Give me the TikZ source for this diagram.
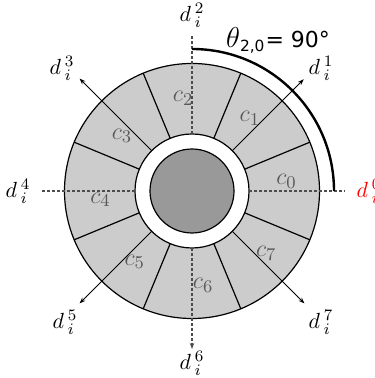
\documentclass[tikz,border=0pt]{standalone}
\usepackage{fontspec}
\setsansfont{DejaVu Sans}
\usetikzlibrary{arrows.meta}

\begin{document}
\begin{tikzpicture}[x=0.5pt,y=0.5pt,>={Stealth[length=3pt,width=2.2pt]}]
\tikzstyle{cl}=[text=black!65,font=\fontsize{13}{15}\selectfont]
\tikzstyle{dl}=[font=\fontsize{11}{13}\selectfont]
\tikzstyle{dir}=[draw=black!70,line width=0.7pt,dash pattern=on 1.5pt off 1pt]
\tikzstyle{diag}=[->,line width=0.5pt]
\useasboundingbox (-192,-187) rectangle (182,191);
% ring of cells
\filldraw[fill=black!20,line width=0.6pt] (0,0) circle (127.5);
\draw[line width=0.6pt] (22.5:57) -- (22.5:127.5) (67.5:57) -- (67.5:127.5)
  (112.5:57) -- (112.5:127.5) (157.5:57) -- (157.5:127.5)
  (202.5:57) -- (202.5:127.5) (247.5:57) -- (247.5:127.5)
  (292.5:57) -- (292.5:127.5) (337.5:57) -- (337.5:127.5);
\filldraw[fill=white,line width=0.6pt] (0,0) circle (57);
\filldraw[fill=black!40,line width=0.6pt] (0,0) circle (42);
% directions
\draw[dir] (0:57) -- (0:153);
\draw[dir] (90:57) -- (90:157);
\draw[dir] (180:57) -- (180:152);
\draw[dir,->] (270:57) -- (270:158);
\draw[diag] (45:57) -- (45:158);
\draw[diag] (135:57) -- (135:159);
\draw[diag] (225:57) -- (225:159);
\draw[diag] (315:57) -- (315:159);
% angle
\draw[line width=1.2pt] (90:142) arc (90:0:142);
\node[font=\sffamily\fontsize{11}{13}\selectfont] (theta) at (86,151) {{\fontsize{14}{16}\selectfont$\theta$}\textsubscript{2,0}= 90°};
% cells
\node[cl] (c0) at (6:95) {$c_0$};
\node[cl] (c1) at (51.5:93) {$c_1$};
\node[cl] (c2) at (95.5:93) {$c_2$};
\node[cl] (c3) at (141.8:89) {$c_3$};
\node[cl] (c4) at (185.6:92) {$c_4$};
\node[cl] (c5) at (231:91) {$c_5$};
\node[cl] (c6) at (276.7:95) {$c_6$};
\node[cl] (c7) at (320:97) {$c_7$};
% direction labels
\node[dl,text=red] (d0) at (177,0) {$d\,^{0}_{i}$};
\node[dl] (d1) at (129,123) {$d\,^{1}_{i}$};
\node[dl] (d2) at (0,176) {$d\,^{2}_{i}$};
\node[dl] (d3) at (-130,123) {$d\,^{3}_{i}$};
\node[dl] (d4) at (-174,0) {$d\,^{4}_{i}$};
\node[dl] (d5) at (-127,-131) {$d\,^{5}_{i}$};
\node[dl] (d6) at (0,-172) {$d\,^{6}_{i}$};
\node[dl] (d7) at (129,-131) {$d\,^{7}_{i}$};
\end{tikzpicture}
\end{document}
